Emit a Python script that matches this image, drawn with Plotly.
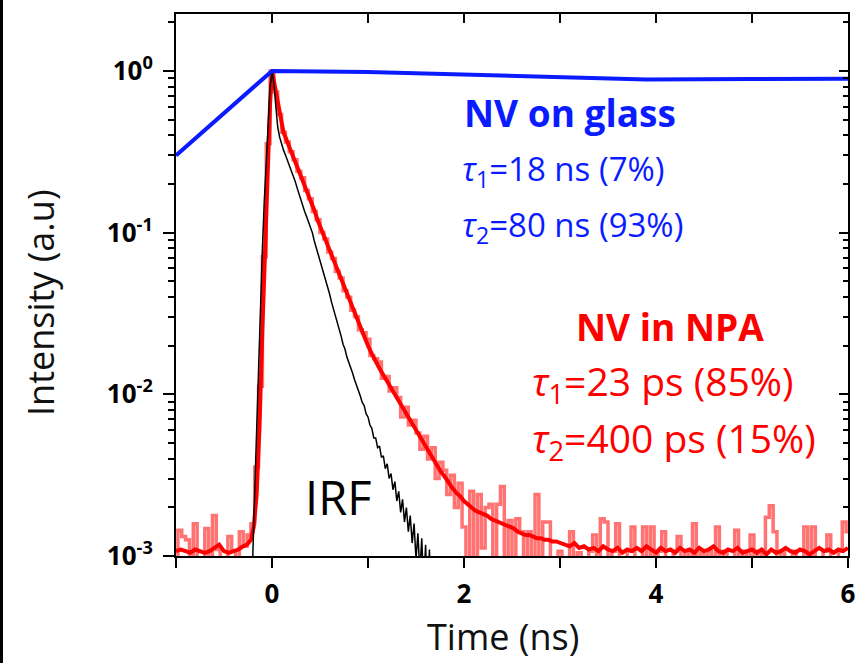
import plotly.graph_objects as go

# ---------------- data ----------------
# Time axis for the raw NPA histogram: -1 ns to 6 ns in 0.04 ns bins
raw_t0 = -1.0
raw_dt = 0.04
# log10 of the normalised raw counts (bins with no counts sit below the axis at -3.5)
raw_log = [
    -3.5, -2.84, -2.88, -2.90, -3.5, -2.80, -3.5, -3.5, -2.83, -3.5,
    -2.75, -2.96, -3.5, -3.5, -2.88, -2.97, -3.5, -2.85, -2.94, -2.87,
    -2.80, -2.45, -1.95, -1.15, -0.45, 0.00,
    -0.13, -0.27, -0.38, -0.44, -0.50, -0.55, -0.62, -0.66, -0.74, -0.79,
    -0.87, -0.92, -1.00, -1.04, -1.12, -1.16, -1.24, -1.28, -1.36, -1.40,
    -1.48, -1.52, -1.60, -1.62, -1.66, -1.76, -1.78, -1.80, -1.90, -1.89,
    -1.98, -1.96, -2.02, -2.14, -2.08, -2.19, -2.16, -2.24, -2.34, -2.26,
    -2.40, -2.33, -2.52, -2.42, -2.47, -2.62, -2.50, -2.70, -2.55, -2.82,
    -3.5, -2.60, -3.5, -2.62,
    -2.95, -2.70, -2.68, -3.5, -2.68, -2.57, -3.5, -2.78, -3.5, -2.77,
    -2.85, -3.5, -2.85, -3.5, -2.62, -3.5, -2.79, -2.79, -3.5, -3.5,
    -2.97, -3.5, -3.5, -2.85, -3.5, -2.98, -3.5, -3.5, -2.97, -2.87,
    -3.5, -2.77, -2.79, -3.5, -2.97, -2.80, -3.5, -3.5, -2.97, -2.82,
    -3.5, -3.5, -2.82, -3.5, -2.82, -3.5, -2.97, -2.85, -3.5, -3.5,
    -2.97, -2.88, -3.5, -2.97, -3.5, -2.80, -3.5, -2.98, -3.5, -2.97,
    -3.5, -2.82, -3.5, -2.97, -3.5, -3.5, -2.84, -3.5, -2.97, -3.5,
    -2.87, -3.5, -2.97, -3.5, -2.76, -2.69, -2.85, -3.5, -2.97, -3.5,
    -3.5, -2.97, -3.5, -3.5, -2.82, -3.5, -2.82, -3.5, -3.5, -2.97,
    -2.87, -3.5, -3.5, -2.97, -2.79, -2.85,
]

# Smoothed NPA decay
red_t = [
    -1.00, -0.95, -0.90, -0.85, -0.80, -0.75, -0.70, -0.65, -0.60, -0.55,
    -0.50, -0.45, -0.40, -0.35, -0.30, -0.26, -0.22, -0.19, -0.16, -0.13,
    -0.10, -0.07, -0.04, -0.02, 0.00, 0.03, 0.06, 0.09, 0.12, 0.16, 0.20,
    0.24, 0.28, 0.32, 0.36, 0.40, 0.44, 0.48, 0.52, 0.56, 0.60, 0.64, 0.68,
    0.72, 0.76, 0.80, 0.84, 0.88, 0.92, 0.96, 1.00, 1.04, 1.08, 1.12, 1.16,
    1.20, 1.24, 1.28, 1.32, 1.36, 1.40, 1.44, 1.48, 1.52, 1.56, 1.60, 1.64,
    1.68, 1.72, 1.76, 1.80, 1.84, 1.88, 1.92, 1.96, 2.00, 2.04, 2.08, 2.12,
    2.16, 2.20, 2.24, 2.28, 2.32, 2.36, 2.40, 2.44, 2.48, 2.52, 2.56, 2.60,
    2.64, 2.68, 2.72, 2.76, 2.80, 2.84, 2.88, 2.92, 2.96, 3.00,
    3.05, 3.10, 3.15, 3.20, 3.25, 3.30, 3.35, 3.40, 3.45, 3.50, 3.55, 3.60,
    3.65, 3.70, 3.75, 3.80, 3.85, 3.90, 3.95, 4.00, 4.05, 4.10, 4.15, 4.20,
    4.25, 4.30, 4.35, 4.40, 4.45, 4.50, 4.55, 4.60, 4.65, 4.70, 4.75, 4.80,
    4.85, 4.90, 4.95, 5.00, 5.05, 5.10, 5.15, 5.20, 5.25, 5.30, 5.35, 5.40,
    5.45, 5.50, 5.55, 5.60, 5.65, 5.70, 5.75, 5.80, 5.85, 5.90, 5.95, 6.00,
]
red_log = [
    -2.97, -2.96, -2.97, -2.98, -2.96, -2.97, -2.98, -2.97, -2.95, -2.93,
    -2.97, -2.98, -2.97, -2.96, -2.94, -2.93, -2.90, -2.82, -2.62, -2.20,
    -1.60, -1.00, -0.50, -0.20, 0.00, -0.10, -0.21, -0.31, -0.38, -0.44, -0.50,
    -0.56, -0.61, -0.67, -0.73, -0.80, -0.86, -0.93, -0.99, -1.05, -1.11, -1.17, -1.23,
    -1.29, -1.35, -1.41, -1.47, -1.53, -1.58, -1.64, -1.70, -1.75, -1.80, -1.84, -1.88,
    -1.92, -1.96, -2.00, -2.04, -2.09, -2.13, -2.17, -2.21, -2.25, -2.29, -2.33, -2.37,
    -2.41, -2.44, -2.48, -2.51, -2.55, -2.58, -2.61, -2.63, -2.66, -2.68, -2.70, -2.72,
    -2.73, -2.74, -2.75, -2.77, -2.78, -2.79, -2.80, -2.81, -2.82, -2.83, -2.85, -2.86,
    -2.87, -2.87, -2.88, -2.89, -2.89, -2.90, -2.90, -2.91, -2.91, -2.92,
    -2.93, -2.94, -2.92, -2.95, -2.94, -2.96, -2.95, -2.97, -2.94, -2.96, -2.97, -2.95,
    -2.98, -2.96, -2.97, -2.95, -2.97, -2.94, -2.96, -2.98, -2.95, -2.97, -2.96, -2.98,
    -2.95, -2.97, -2.96, -2.98, -2.95, -2.97, -2.96, -2.94, -2.97, -2.98, -2.96, -2.97,
    -2.95, -2.98, -2.97, -2.96, -2.98, -2.96, -2.99, -2.96, -2.98, -2.97, -2.95, -2.97,
    -2.98, -2.96, -2.97, -2.99, -2.97, -2.95, -2.97, -2.96, -2.98, -2.96, -2.97, -2.95,
]

# Instrument response function
irf_t = [
    -0.24, -0.20, -0.18, -0.16, -0.14, -0.12, -0.10, -0.08, -0.06, -0.04, -0.02,
    0.00, 0.02, 0.04, 0.06, 0.08, 0.10, 0.12, 0.14, 0.16, 0.18, 0.20, 0.22, 0.24,
    0.26, 0.28, 0.30, 0.32, 0.34, 0.36, 0.38, 0.40, 0.42, 0.44, 0.46, 0.48, 0.50,
    0.52, 0.54, 0.56, 0.58, 0.60, 0.62, 0.64, 0.66, 0.68, 0.70, 0.72, 0.74, 0.76,
    0.78, 0.80, 0.82, 0.84, 0.86, 0.88, 0.90, 0.92, 0.94, 0.96, 0.98, 1.00, 1.02,
    1.04, 1.06, 1.08, 1.10, 1.12, 1.14, 1.16, 1.18, 1.20, 1.22, 1.24, 1.26, 1.28,
    1.30, 1.32, 1.34, 1.36, 1.38, 1.40, 1.42, 1.44, 1.46, 1.48, 1.50, 1.52, 1.54,
    1.56, 1.58, 1.60, 1.62, 1.64, 1.66,
]
irf_log = [
    -3.5, -3.0, -2.6, -2.2, -1.8, -1.4, -1.1, -0.8, -0.55, -0.3, -0.1,
    0.0, -0.08, -0.22, -0.35, -0.41, -0.46, -0.49, -0.52, -0.55, -0.58, -0.61, -0.64, -0.68,
    -0.72, -0.76, -0.80, -0.83, -0.87, -0.90, -0.93, -0.96, -1.00, -1.05, -1.09, -1.13, -1.17,
    -1.22, -1.26, -1.30, -1.34, -1.38, -1.43, -1.47, -1.51, -1.56, -1.60, -1.64, -1.69, -1.72,
    -1.77, -1.80, -1.84, -1.87, -1.91, -1.94, -1.98, -2.01, -2.05, -2.07, -2.12, -2.14, -2.19,
    -2.21, -2.27, -2.27, -2.33, -2.32, -2.39, -2.38, -2.46, -2.43, -2.52, -2.49, -2.59, -2.54,
    -2.66, -2.60, -2.73, -2.65, -2.79, -2.70, -2.85, -2.75, -2.92, -2.80, -3.02, -2.86, -3.10,
    -2.89, -3.20, -2.93, -3.30, -2.96, -3.5,
]

# NV on glass (long-lived reference)
glass_t = [-1.0, 0.0, 1.0, 2.0, 3.0, 3.9, 5.0, 6.0]
glass_y = [0.30, 1.0, 0.985, 0.95, 0.92, 0.885, 0.89, 0.895]

x_ticks = [-1, 0, 1, 2, 3, 4, 5, 6]
x_labels = ["", "0", "", "2", "", "4", "", "6"]
y_ticks = [1e-3, 1e-2, 1e-1, 1.0]
y_labels = ["10<sup>-3</sup>", "10<sup>-2</sup>", "10<sup>-1</sup>", "10<sup>0</sup>"]
y_minor = [m * 10.0 ** d for d in (-3, -2, -1, 0) for m in range(2, 10)]

# ---------------- figure ----------------
W, H = 858, 663
ML, MR, MT, MB = 176, 10, 14, 107
PW, PH = W - ML - MR, H - MT - MB

BLUE = "#0a1cff"
RED = "#ff0000"
FONT = "Open Sans"

raw_t = [raw_t0 + raw_dt * i for i in range(len(raw_log))]

fig = go.Figure()
fig.add_trace(go.Scatter(
    x=raw_t, y=[10 ** v for v in raw_log], mode="lines",
    line=dict(color="rgba(255,0,0,0.55)", width=3.5, shape="hvh"),
    hoverinfo="skip", showlegend=False,
))
fig.add_trace(go.Scatter(
    x=red_t, y=[10 ** v for v in red_log], mode="lines",
    line=dict(color=RED, width=4), showlegend=False,
))
fig.add_trace(go.Scatter(
    x=irf_t, y=[10 ** v for v in irf_log], mode="lines",
    line=dict(color="black", width=1.5), showlegend=False,
))
fig.add_trace(go.Scatter(
    x=glass_t, y=glass_y, mode="lines",
    line=dict(color=BLUE, width=4), showlegend=False,
))
# invisible trace carrying the mirrored (inside) ticks on top / right
fig.add_trace(go.Scatter(x=[None], y=[None], xaxis="x2", yaxis="y2",
                         showlegend=False, hoverinfo="skip"))

Y_RANGE = [-3, 0.352]
X_RANGE = [-1, 6]

fig.update_layout(
    width=W, height=H,
    margin=dict(l=ML, r=MR, t=MT, b=MB),
    paper_bgcolor="white", plot_bgcolor="white",
    font=dict(family=FONT, color="black"),
    xaxis=dict(
        range=X_RANGE, tickmode="array", tickvals=x_ticks, ticktext=x_labels,
        ticks="outside", ticklen=10, tickwidth=2, tickcolor="black",
        showline=True, linewidth=2, linecolor="black", showgrid=False,
        zeroline=False, tickfont=dict(size=26, family=FONT, weight="bold"),
        ticklabelstandoff=4, automargin=False,
    ),
    yaxis=dict(
        type="log", range=Y_RANGE, tickmode="array", tickvals=y_ticks,
        ticktext=y_labels, ticks="outside", ticklen=11, tickwidth=2,
        tickcolor="black", showline=True, linewidth=2, linecolor="black",
        showgrid=False, zeroline=False,
        tickfont=dict(size=26, family=FONT, weight="bold"),
        ticklabelstandoff=5, automargin=False,
        minor=dict(ticks="outside", ticklen=6, tickwidth=1.5, tickcolor="black",
                   tickvals=y_minor, showgrid=False),
    ),
    xaxis2=dict(
        overlaying="x", side="top", range=X_RANGE, tickmode="array",
        tickvals=x_ticks, ticks="inside", ticklen=9, tickwidth=2,
        tickcolor="black", showticklabels=False, showline=True, linewidth=2,
        linecolor="black", showgrid=False, zeroline=False, automargin=False,
    ),
    yaxis2=dict(
        overlaying="y", side="right", type="log", range=Y_RANGE,
        tickmode="array", tickvals=y_ticks, ticks="inside", ticklen=9,
        tickwidth=2, tickcolor="black", showticklabels=False, showline=True,
        linewidth=2, linecolor="black", showgrid=False, zeroline=False,
        automargin=False,
        minor=dict(ticks="inside", ticklen=5, tickwidth=1.5, tickcolor="black",
                   tickvals=y_minor, showgrid=False),
    ),
)


def px_x(p):
    return (p - ML) / PW


def px_y(p):
    return (H - MB - p) / PH


def label(text, cx, cy, color, size, xanchor="center", bold=False):
    fig.add_annotation(
        xref="paper", yref="paper", x=px_x(cx), y=px_y(cy),
        text=f"<b>{text}</b>" if bold else text, showarrow=False,
        xanchor=xanchor, yanchor="middle",
        font=dict(family=FONT, size=size, color=color),
    )


label("NV on glass", 570, 113, BLUE, 37, bold=True)
label("<i>τ</i><sub>1</sub>=18 ns (7%)", 460, 170, BLUE, 33, xanchor="left")
label("<i>τ</i><sub>2</sub>=80 ns (93%)", 460, 226, BLUE, 33, xanchor="left")
label("NV in NPA", 670, 326, RED, 37, bold=True)
label("<i>τ</i><sub>1</sub>=23 ps (85%)", 530, 383, RED, 39, xanchor="left")
label("<i>τ</i><sub>2</sub>=400 ps (15%)", 530, 440, RED, 39, xanchor="left")
label("IRF", 338, 497, "black", 47)

# axis titles
fig.add_annotation(xref="paper", yref="paper", x=px_x(503), y=px_y(636),
                   text="Time (ns)", showarrow=False, xanchor="center",
                   yanchor="middle", font=dict(family=FONT, size=36, color="#111"))
fig.add_annotation(xref="paper", yref="paper", x=px_x(40), y=px_y(303),
                   text="Intensity (a.u)", showarrow=False, textangle=-90,
                   xanchor="center", yanchor="middle",
                   font=dict(family=FONT, size=36, color="#111"))

# dark strip along the left edge of the page
fig.add_shape(type="rect", xref="paper", yref="paper",
              x0=px_x(0), x1=px_x(3), y0=px_y(H), y1=px_y(0),
              fillcolor="black", line_width=0, layer="above")

fig.write_html("out.html")
